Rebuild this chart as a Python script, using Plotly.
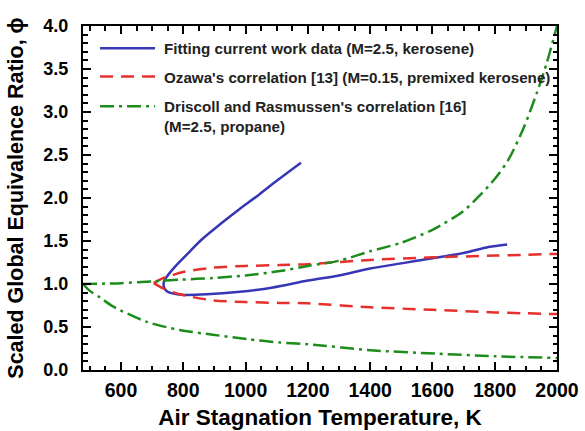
import plotly.graph_objects as go

# Fitted current work data (M=2.5, kerosene): upper branch end -> turning point -> lower branch end
fit_T = [1178, 1100, 1040, 980, 920, 860, 816, 773, 747, 738, 737, 742, 752, 795, 875, 982,
         1088, 1200, 1300, 1400, 1500, 1600, 1700, 1780, 1840]
fit_phi = [2.41, 2.20, 2.03, 1.87, 1.70, 1.52, 1.36, 1.20, 1.085, 1.03, 0.98, 0.935, 0.905, 0.875, 0.88, 0.91,
           0.96, 1.04, 1.10, 1.18, 1.24, 1.30, 1.36, 1.43, 1.46]

# Ozawa's correlation (M=0.15, premixed kerosene), lean and rich branches meeting near 705 K
oz_lean_T = [705, 735, 789, 895, 1000, 1110, 1200, 1400, 1600, 1800, 2000]
oz_lean_phi = [1.01, 0.95, 0.88, 0.81, 0.79, 0.78, 0.775, 0.73, 0.70, 0.67, 0.65]
oz_rich_T = [705, 730, 762, 799, 895, 1000, 1110, 1200, 1400, 1600, 1800, 2000]
oz_rich_phi = [1.01, 1.06, 1.10, 1.14, 1.19, 1.21, 1.22, 1.23, 1.28, 1.31, 1.33, 1.35]

# Driscoll and Rasmussen's correlation (M=2.5, propane), both branches starting at 478 K
dr_lean_T = [478, 500, 530, 574, 683, 789, 895, 1004, 1110, 1200, 1400, 1614, 1800, 2000]
dr_lean_phi = [1.0, 0.92, 0.85, 0.74, 0.56, 0.465, 0.41, 0.36, 0.32, 0.30, 0.23, 0.19, 0.16, 0.14]
dr_rich_T = [478, 550, 600, 700, 789, 895, 1000, 1110, 1200, 1300, 1400, 1500, 1600, 1700,
             1752, 1800, 1843, 1890, 1935, 1967, 2000]
dr_rich_phi = [1.0, 1.005, 1.01, 1.03, 1.05, 1.07, 1.10, 1.15, 1.21, 1.27, 1.38, 1.48, 1.63, 1.85,
               2.03, 2.22, 2.44, 2.79, 3.22, 3.57, 4.0]

names = [
    "Fitting current work data (M=2.5, kerosene)",
    "Ozawa's correlation [13] (M=0.15, premixed kerosene)",
    "Driscoll and Rasmussen's correlation [16]<br>(M=2.5, propane)",
]
colors = ["#3636b6", "#e5302c", "#1c8c1c"]
dashes = ["solid", "13px,8px", "14px,5px,3px,5px"]

# Axis ranges and major tick values
x_range = [478, 2000]
y_range = [0.0, 4.0]
x_major = [600, 800, 1000, 1200, 1400, 1600, 1800, 2000]
y_major = [0.0, 0.5, 1.0, 1.5, 2.0, 2.5, 3.0, 3.5, 4.0]

FONT = "Liberation Sans, Arial, sans-serif"

series = [
    [(fit_T, fit_phi)],
    [(oz_lean_T, oz_lean_phi), (oz_rich_T, oz_rich_phi)],
    [(dr_lean_T, dr_lean_phi), (dr_rich_T, dr_rich_phi)],
]

fig = go.Figure()
for branches, name, color, dash in zip(series, names, colors, dashes):
    for T, phi in branches:
        fig.add_trace(go.Scatter(x=T, y=phi, mode="lines", name=name, showlegend=False,
                                 line=dict(color=color, width=2.5, dash=dash,
                                           shape="spline", smoothing=0.8)))

frame = dict(
    showline=True, linecolor="black", linewidth=2, mirror="allticks",
    ticks="inside", ticklen=8, tickwidth=2, tickcolor="black",
    showgrid=False, zeroline=False, automargin=False,
)

fig.update_xaxes(
    range=x_range, tickvals=x_major,
    minor=dict(dtick=50, tick0=0, ticks="inside", ticklen=4.5, tickwidth=1.5, tickcolor="black"),
    tickfont=dict(family=FONT, size=19.5, color="black", weight="bold"),
    ticklabelstandoff=2,
    title=dict(text="Air Stagnation Temperature, K", standoff=9,
               font=dict(family=FONT, size=22.5, color="black", weight="bold")),
    **frame,
)
fig.update_yaxes(
    range=y_range, tickvals=y_major, tickformat=".1f",
    minor=dict(dtick=0.1, tick0=0, ticks="inside", ticklen=4.5, tickwidth=1.5, tickcolor="black"),
    tickfont=dict(family=FONT, size=18, color="black", weight="bold"),
    ticklabelstandoff=9,
    title=dict(text="Scaled Global Equivalence Ratio, \u03d5", standoff=14,
               font=dict(family=FONT, size=21.5, color="black", weight="bold")),
    **frame,
)

# Legend drawn as key lines plus labels in the upper-left of the plot area
key_x0, key_x1, label_x = 0.036, 0.152, 0.167
key_y = [0.935, 0.853, 0.767]
for name, color, dash, y in zip(names, colors, dashes, key_y):
    fig.add_shape(type="line", xref="paper", yref="paper", x0=key_x0, x1=key_x1, y0=y, y1=y,
                  line=dict(color=color, width=2.5, dash=dash))
    fig.add_annotation(xref="paper", yref="paper", x=label_x, y=y + 0.029, text=name,
                       showarrow=False, xanchor="left", yanchor="top", align="left",
                       font=dict(family=FONT, size=15.2, color="#222222", weight="bold"))

fig.update_layout(
    width=585, height=431,
    margin=dict(l=83, r=28, t=26, b=61),
    paper_bgcolor="white", plot_bgcolor="white",
    showlegend=False,
)

fig.write_html("out.html")
